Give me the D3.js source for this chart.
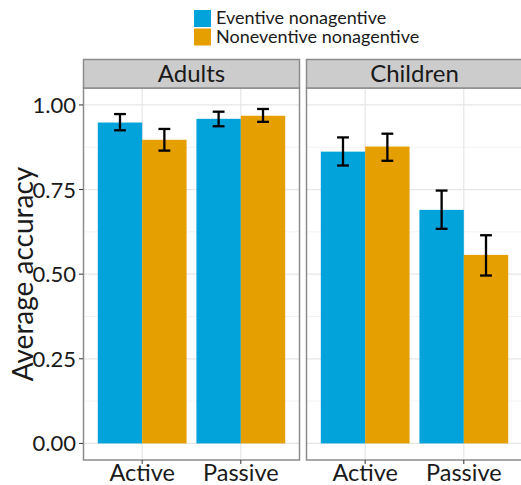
<!DOCTYPE html>
<html>
<head>
<meta charset="utf-8">
<script src="https://cdn.jsdelivr.net/npm/d3@7"></script>
<style>
  body { margin: 0; background: #fff; }
  svg { display: block; font-family: Lato, "DejaVu Sans", sans-serif; }
</style>
</head>
<body>
<svg id="chart" width="521" height="485"></svg>
<script>
// data
var groups = ["Adults", "Children"];
var conditions = ["Active", "Passive"];
var types = ["Eventive nonagentive", "Noneventive nonagentive"];
var colors = ["#02a3da", "#e69f00"];
var yTicks = [0, 0.25, 0.5, 0.75, 1];
var yMinor = [0.125, 0.375, 0.625, 0.875];

// order: Adults Active, Adults Passive, Children Active, Children Passive
var eventiveMean = [0.948, 0.959, 0.862, 0.690];
var eventiveLo   = [0.925, 0.937, 0.821, 0.634];
var eventiveHi   = [0.973, 0.980, 0.904, 0.747];
var noneventiveMean = [0.897, 0.968, 0.877, 0.557];
var noneventiveLo   = [0.865, 0.950, 0.835, 0.496];
var noneventiveHi   = [0.929, 0.988, 0.915, 0.615];

var series = [
  {name: types[0], mean: eventiveMean, lo: eventiveLo, hi: eventiveHi},
  {name: types[1], mean: noneventiveMean, lo: noneventiveLo, hi: noneventiveHi}
];

var svg = d3.select("#chart");

var plotTop = 88, plotBottom = 460, stripTop = 59;
var panelW = 217;
var panelX = [83, 306];

var y = d3.scaleLinear().domain([-0.049, 1.05]).range([plotBottom, plotTop]);

var barW = 0.45, capW = 0.12;

groups.forEach(function(g, gi) {
  var x = d3.scaleLinear().domain([0.4, 2.6]).range([panelX[gi], panelX[gi] + panelW]);
  var p = svg.append("g");

  // panel bg
  p.append("rect").attr("x", panelX[gi]).attr("y", plotTop)
    .attr("width", panelW).attr("height", plotBottom - plotTop).attr("fill", "#fff");

  // grid
  p.selectAll(".minor").data(yMinor).enter().append("line")
    .attr("x1", panelX[gi]).attr("x2", panelX[gi] + panelW)
    .attr("y1", d => y(d)).attr("y2", d => y(d))
    .attr("stroke", "#f3f3f3").attr("stroke-width", 1);
  p.selectAll(".major").data(yTicks).enter().append("line")
    .attr("x1", panelX[gi]).attr("x2", panelX[gi] + panelW)
    .attr("y1", d => y(d)).attr("y2", d => y(d))
    .attr("stroke", "#e6e6e6").attr("stroke-width", 1.2);
  p.selectAll(".vgrid").data(conditions).enter().append("line")
    .attr("x1", (d, i) => x(i + 1)).attr("x2", (d, i) => x(i + 1))
    .attr("y1", plotTop).attr("y2", plotBottom)
    .attr("stroke", "#e6e6e6").attr("stroke-width", 1.2);

  // bars
  series.forEach(function(s, si) {
    var idx = conditions.map((c, ci) => gi * 2 + ci);
    p.selectAll(".bar" + si).data(idx).enter().append("rect")
      .attr("x", (d, ci) => x(ci + 1 - barW + si * barW))
      .attr("width", x(barW) - x(0))
      .attr("y", d => y(s.mean[d]))
      .attr("height", d => y(0) - y(s.mean[d]))
      .attr("fill", colors[si]);

    var eb = p.selectAll(".eb" + si).data(idx).enter().append("g")
      .attr("stroke", "#000").attr("stroke-width", 2.3);
    var cx = (d, ci) => x(ci + 1 - barW / 2 + si * barW);
    var hw = (x(capW) - x(0)) / 2;
    eb.append("line").attr("x1", cx).attr("x2", cx)
      .attr("y1", d => y(s.lo[d])).attr("y2", d => y(s.hi[d]));
    eb.append("line")
      .attr("x1", (d, ci) => cx(d, ci) - hw).attr("x2", (d, ci) => cx(d, ci) + hw)
      .attr("y1", d => y(s.hi[d])).attr("y2", d => y(s.hi[d]));
    eb.append("line")
      .attr("x1", (d, ci) => cx(d, ci) - hw).attr("x2", (d, ci) => cx(d, ci) + hw)
      .attr("y1", d => y(s.lo[d])).attr("y2", d => y(s.lo[d]));
  });

  // panel border
  p.append("rect").attr("x", panelX[gi] + 0.5).attr("y", plotTop)
    .attr("width", panelW - 1).attr("height", plotBottom - plotTop)
    .attr("fill", "none").attr("stroke", "#8c8c8c").attr("stroke-width", 1.5);

  // strip
  p.append("rect").attr("x", panelX[gi] + 0.5).attr("y", stripTop + 0.5)
    .attr("width", panelW - 1).attr("height", plotTop - stripTop - 0.5)
    .attr("fill", "#cccccc").attr("stroke", "#8c8c8c").attr("stroke-width", 1.5);
  p.append("text").attr("x", panelX[gi] + panelW / 2).attr("y", plotTop - 6)
    .attr("text-anchor", "middle").attr("font-size", 24).attr("fill", "#1a1a1a")
    .text(g);

  // x axis
  var xa = p.append("g");
  xa.selectAll("line").data(conditions).enter().append("line")
    .attr("x1", (d, i) => x(i + 1)).attr("x2", (d, i) => x(i + 1))
    .attr("y1", plotBottom).attr("y2", plotBottom + 4)
    .attr("stroke", "#333").attr("stroke-width", 1);
  xa.selectAll("text").data(conditions).enter().append("text")
    .attr("x", (d, i) => x(i + 1)).attr("y", plotBottom + 21)
    .attr("text-anchor", "middle").attr("font-size", 23.5).attr("fill", "#1a1a1a")
    .text(d => d);
});

// y axis
var ya = svg.append("g");
ya.selectAll("line").data(yTicks).enter().append("line")
  .attr("x1", panelX[0] - 4).attr("x2", panelX[0])
  .attr("y1", d => y(d)).attr("y2", d => y(d))
  .attr("stroke", "#333").attr("stroke-width", 1);
ya.selectAll("text").data(yTicks).enter().append("text")
  .attr("x", panelX[0] - 7).attr("y", d => y(d) + 8)
  .attr("text-anchor", "end").attr("font-size", 22).attr("fill", "#1a1a1a")
  .text(d => d3.format(".2f")(d));

svg.append("text")
  .attr("transform", "translate(33," + ((plotTop + plotBottom) / 2) + ") rotate(-90)")
  .attr("text-anchor", "middle").attr("font-size", 28).attr("fill", "#1a1a1a")
  .text("Average accuracy");

// legend
var lg = svg.append("g").attr("transform", "translate(194,10)");
types.forEach(function(t, i) {
  lg.append("rect").attr("x", 0).attr("y", i * 18.5).attr("width", 17).attr("height", 17)
    .attr("fill", colors[i]);
  lg.append("text").attr("x", 22).attr("y", i * 18.5 + 14)
    .attr("font-size", 18).attr("fill", "#1a1a1a").text(t);
});
</script>
</body>
</html>
